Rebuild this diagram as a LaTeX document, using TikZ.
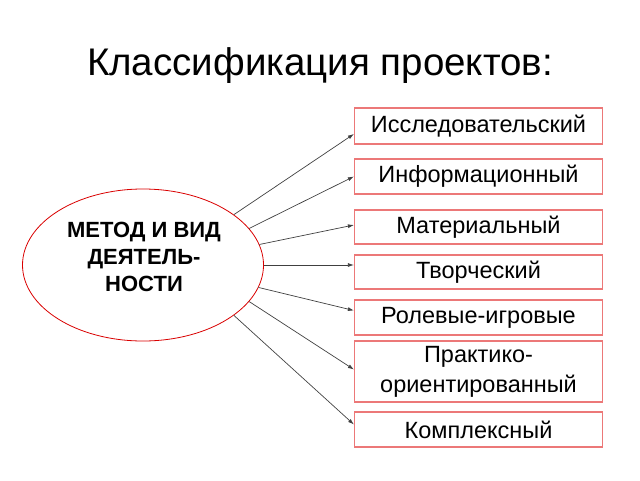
\documentclass[tikz,border=0pt]{standalone}
\usepackage{fontspec}
\setmainfont{Liberation Sans}
\usepackage{tikz}
\usetikzlibrary{positioning, shapes.geometric, arrows, arrows.meta}
\definecolor{boxred}{RGB}{236,120,120}

\begin{document}
\begin{tikzpicture}[x=1pt, y=-1pt,
        kind/.style={draw=boxred, line width=1.2pt, minimum width=248pt, minimum height=35pt,
            inner sep=0pt, align=center, font=\fontsize{23.5}{30}\selectfont},
        method/.style={ellipse, draw=red!85!black, line width=0.8pt, minimum width=241pt,
            minimum height=152pt, inner sep=0pt},
        link/.style={draw=black!75, line width=0.7pt, -{Latex[length=6pt, width=4pt]}}]
            \useasboundingbox (0, 0) rectangle (640, 480);

            \node (T) at (320, 66) {\fontsize{38.5}{44}\selectfont Классификация проектов:};

            \node [method] (M) at (143, 265) {};
            \node (Mtxt) at (144, 257) [align=center, font=\bfseries\fontsize{22}{27}\selectfont]
                {МЕТОД И ВИД\\ДЕЯТЕЛЬ-\\НОСТИ};

            \node [kind, minimum height=36pt] (K1) at (478.5, 126) {Исследовательский};
            \node [kind] (K2) at (478.5, 176.5) {Информационный};
            \node [kind, minimum height=34pt] (K3) at (478.5, 227) {Материальный};
            \node [kind, minimum height=34pt] (K4) at (478.5, 272) {Творческий};
            \node [kind] (K5) at (478.5, 317.5) {Ролевые-игровые};
            \node [kind, minimum height=61pt] (K6) at (478.5, 371.5) {Практико-\\ориентированный};
            \node [kind] (K7) at (478.5, 429.5) {Комплексный};

            \draw [link] (M.29) -- ([yshift=-8pt]K1.west);
            \draw [link] (M.19) -- (K2.west);
            \draw [link] (M.10) -- ([yshift=2pt]K3.west);
            \draw [link] (M.0) -- ([yshift=7pt]K4.west);
            \draw [link] (M.-11) -- ([yshift=7pt]K5.west);
            \draw [link] (M.-19) -- ([yshift=2pt]K6.west);
            \draw [link] (M.-29) -- ([yshift=5pt]K7.west);
        \end{tikzpicture}
\end{document}
